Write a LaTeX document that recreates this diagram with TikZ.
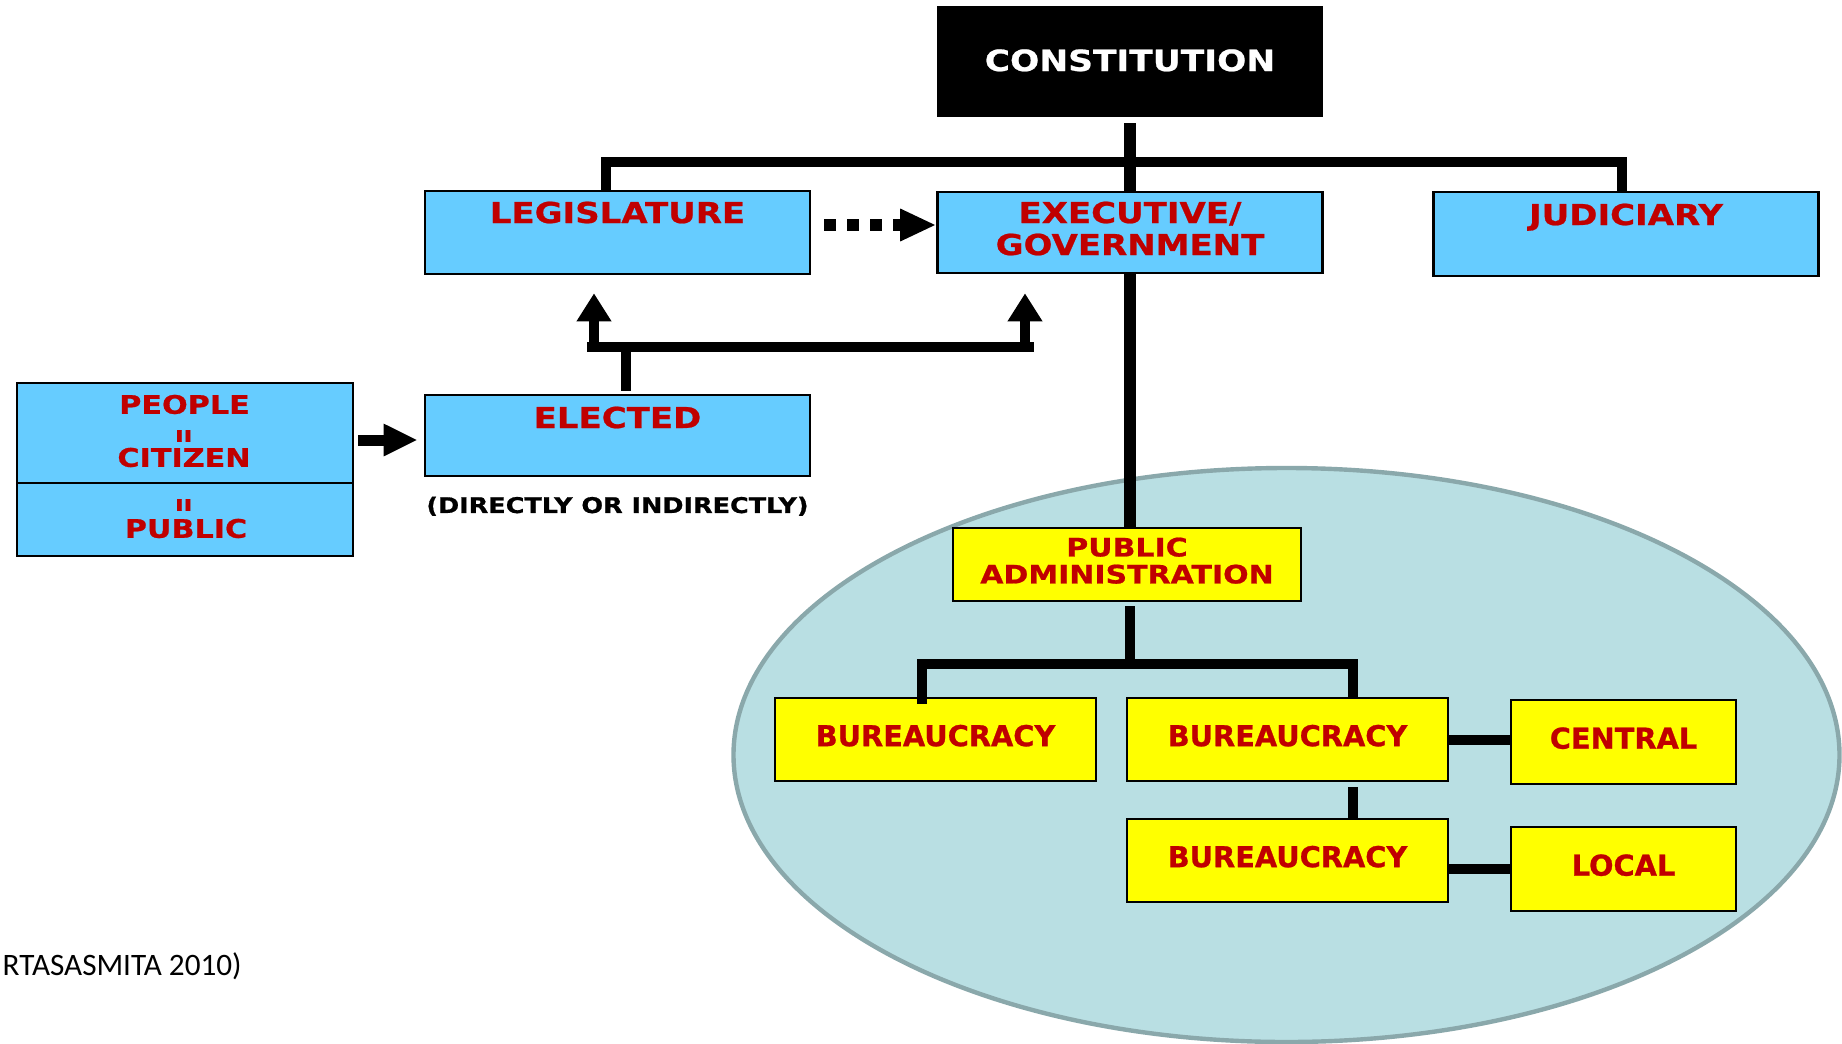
\documentclass[tikz,border=0pt]{standalone}
\usepackage{fontspec}
\usepackage{graphicx}
\usetikzlibrary{arrows.meta, positioning, calc}
\newfontfamily\verdfont{DejaVu Sans}[FakeStretch=1.18, FakeBold=0.8]
\newfontfamily\tahofont{DejaVu Sans}[FakeBold=0.8]
\newfontfamily\srcfont{Carlito}
\definecolor{cblue}{HTML}{66CCFF}
\definecolor{cred}{HTML}{C00000}
\definecolor{cyellow}{HTML}{FFFF00}
\definecolor{coval}{HTML}{B9DFE3}
\definecolor{covaledge}{HTML}{8AA8AB}
\newcommand\eqbar{\rotatebox{90}{\scalebox{1}[2.4]{=}}}
\tikzset{
  every picture/.style={line width=1.3pt},
  constbox/.style={draw=black, fill=black, text=white, inner sep=0pt, minimum width=192pt, font=\verdfont\bfseries\fontsize{14.6}{17}\selectfont},
  bluebox/.style={draw=black, fill=cblue, inner sep=0pt, minimum width=192.5pt, align=center, text=cred, font=\verdfont\bfseries\fontsize{14.4}{16}\selectfont},
  yellowbox/.style={draw=black, fill=cyellow, inner sep=0pt, align=center, text=cred, text depth=4pt, font=\tahofont\bfseries\fontsize{14.4}{16}\selectfont},
  redlabel/.style={inner sep=0pt, text=cred, text height=9.3pt, text depth=0pt, font=\verdfont\bfseries\fontsize{12.8}{14}\selectfont},
  eqlabel/.style={inner sep=0pt, text=cred, font=\verdfont\bfseries\fontsize{8}{8}\selectfont},
  note/.style={inner sep=0pt, font=\verdfont\bfseries\fontsize{10.8}{12}\selectfont},
  conn/.style={line width=5pt},
  trunk/.style={line width=5.75pt},
  uparrow/.style={line width=5pt, -{Triangle[width=16.5pt, length=14pt]}},
  pusharrow/.style={line width=5.5pt, -{Triangle[width=15pt, length=17pt]}},
  dotarrow/.style={line width=6pt, dash pattern=on 6pt off 5.5pt, -{Triangle[width=15pt, length=18pt]}},
}
\begin{document}
\begin{tikzpicture}[x=0.5pt, y=-0.5pt]
  \useasboundingbox (0,0) rectangle (1842,1044);
  % the oval round the administration
  \draw[fill=coval, draw=covaledge, line width=2.2pt] (1286.5,755) ellipse [x radius=276.5pt, y radius=143.5pt];
  % top level
  \node[constbox, text height=32pt, text depth=22.5pt] (const) at (1130,61.5) {CONSTITUTION};
  \node[bluebox, text height=16pt, text depth=25.5pt] (leg) at (617.5,232.5) {LEGISLATURE};
  \node[bluebox, text height=31.5pt, text depth=9pt] (exec) at (1130,232.5) {EXECUTIVE/\\GOVERNMENT};
  \node[bluebox, text height=16.5pt, text depth=25.5pt] (jud) at (1626,234) {JUDICIARY};
  \coordinate (split) at (1130,162);
  \draw[trunk, shorten <=3pt] (const.south) -- (exec.north);
  \draw[conn] ([xshift=-5.75pt]leg.north) |- (split) -| ([xshift=-2pt]jud.north);
  \draw[dotarrow] ([shift={(6.5pt,3.75pt)}]leg.east) -- ([yshift=3.75pt]exec.west);
  % the people and whom they elect
  \node[bluebox, minimum width=168pt, minimum height=50pt] (people) at (185,433) {};
  \node[bluebox, minimum width=168pt, minimum height=36.5pt] (public) at (185,519.5) {};
  \node[redlabel] (ppl) at (184.5,404.5) {PEOPLE};
  \node[eqlabel] (eq1) at (186.5,436) {\eqbar};
  \node[redlabel] (cit) at (184,457.5) {CITIZEN};
  \node[eqlabel] (eq2) at (186.5,505) {\eqbar};
  \node[redlabel] (pub) at (186,528.5) {PUBLIC};
  \node[bluebox, text height=16.5pt, text depth=24pt] (elected) at (617.5,435.5) {ELECTED};
  \node[note, below=9pt of elected] (how) {(DIRECTLY OR INDIRECTLY)};
  \coordinate (pin) at ([shift={(2pt,-3.5pt)}]people.east);
  \draw[pusharrow, shorten >=3pt] (pin) -- (pin -| elected.west);
  \coordinate (vote) at (626,347);
  \coordinate (ltip) at ([shift={(-11.75pt,-9pt)}]leg.south);
  \coordinate (etip) at ([shift={(-52.5pt,-9.5pt)}]exec.south);
  \draw[conn, shorten <=1.5pt] (elected.north -| vote) -- (vote);
  \draw[conn, shorten <=-3.5pt, shorten >=-4.5pt] (ltip |- vote) -- (etip |- vote);
  \draw[uparrow] (ltip |- vote) -- (ltip);
  \draw[uparrow] (etip |- vote) -- (etip);
  % administration inside the oval
  \node[yellowbox, minimum width=174pt, minimum height=36.5pt, font=\verdfont\bfseries\fontsize{12.7}{13.5}\selectfont] (pa) at (1127,564.5) {PUBLIC\\ADMINISTRATION};
  \node[yellowbox, minimum width=160.5pt, minimum height=41.5pt] (b1) at (935.5,739.5) {BUREAUCRACY};
  \node[yellowbox, minimum width=160.5pt, minimum height=41.5pt] (b2) at (1287.5,739.5) {BUREAUCRACY};
  \node[yellowbox, minimum width=160.5pt, minimum height=41.5pt] (b3) at (1287.5,860.5) {BUREAUCRACY};
  \node[yellowbox, minimum width=112.5pt, minimum height=42pt] (central) at (1623.5,742) {CENTRAL};
  \node[yellowbox, minimum width=112.5pt, minimum height=42pt] (local) at (1623.5,869) {LOCAL};
  \coordinate (fork) at (1130,664);
  \draw[trunk] (exec.south) -- (exec.south |- pa.north);
  \draw[conn, shorten <=2pt] (pa.south -| fork) -- (fork);
  \draw[conn, shorten <=-3.5pt] ([xshift=-6.75pt]b1.north) |- (fork) -| ([xshift=32.75pt]b2.north);
  \draw[conn, shorten <=2.5pt] ([xshift=32.75pt]b2.south) -- ([xshift=32.75pt]b3.north);
  \draw[conn] (b2.east) -- (b2.east -| central.west);
  \draw[conn] (b3.east |- local.west) -- (local.west);
  % source
  \node[inner sep=0pt, anchor=east, font=\srcfont\fontsize{15.6}{18}\selectfont] (src) at (243,966) {RTASASMITA 2010)};
\end{tikzpicture}
\end{document}
